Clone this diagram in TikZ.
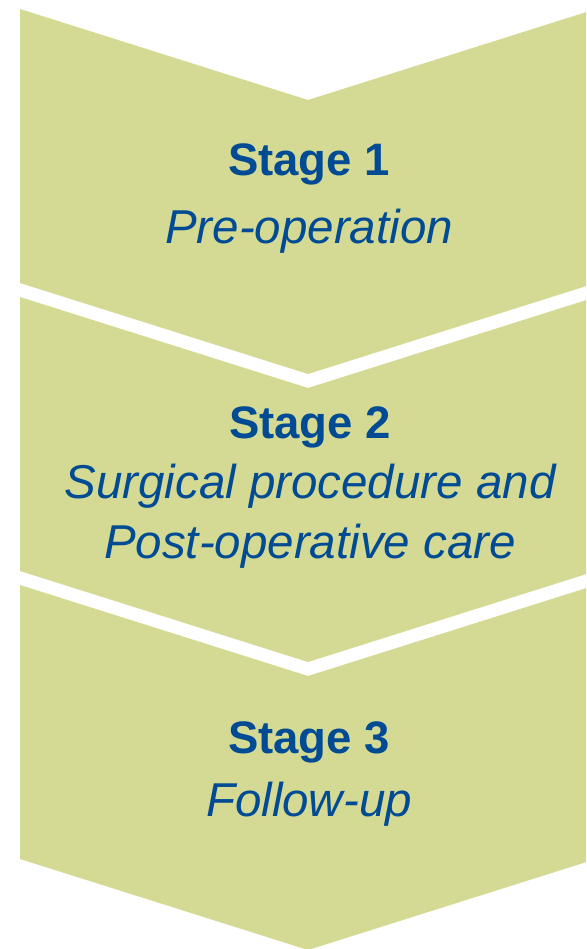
\documentclass[tikz,border=0pt]{standalone}
\usepackage{fontspec}
\setmainfont{Liberation Sans}
\definecolor{chevgreen}{HTML}{D4DA93}
\definecolor{stageblue}{HTML}{004B93}
\newcommand{\stagesub}[1]{{\fontsize{47.5}{60}\selectfont\mdseries\itshape #1}}
\tikzset{
  chevron/.style={fill=chevgreen, draw=none},
  stagelabel/.style={align=center, inner sep=0pt, anchor=north, text=stageblue,
    font=\fontsize{45.5}{60}\selectfont\bfseries}
}
\begin{document}
\begin{tikzpicture}[x=1pt, y=-1pt]
% page size
\useasboundingbox (0,0) rectangle (586,949);
\clip (0,0) rectangle (586,949);

% chevrons
\fill[chevron] (20,9) -- (308,100) -- (596,9) -- (596,283) -- (308,374) -- (20,283) -- cycle;
\fill[chevron] (20,297) -- (308,388) -- (596,297) -- (596,571) -- (308,662) -- (20,571) -- cycle;
\fill[chevron] (20,585) -- (308,676) -- (596,585) -- (596,859) -- (308,950) -- (20,859) -- cycle;

% labels
\node[stagelabel] (stage1) at (309,144) {Stage 1\\[8pt]\stagesub{Pre-operation}};
\node[stagelabel] (stage2) at (310,406.5) {Stage 2\\\stagesub{Surgical procedure and}\\\stagesub{Post-operative care}};
\node[stagelabel] (stage3) at (309,721.5) {Stage 3\\[3pt]\stagesub{Follow-up}};
\end{tikzpicture}
\end{document}
